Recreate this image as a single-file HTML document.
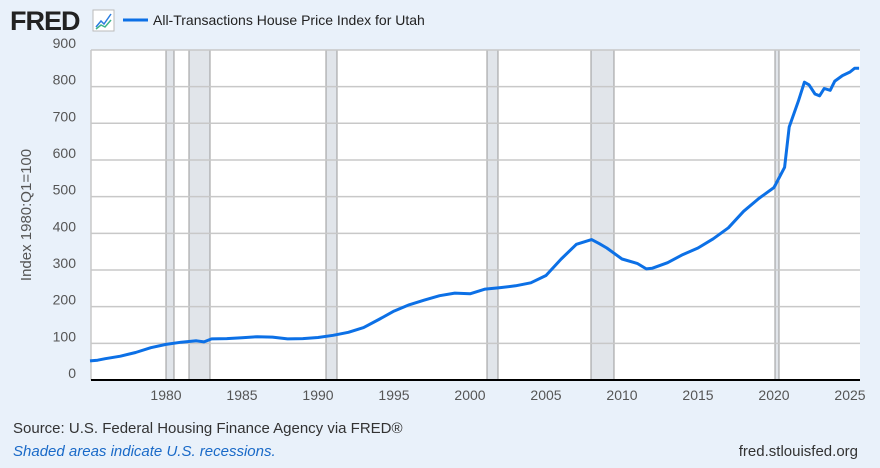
<!DOCTYPE html>
<html><head><meta charset="utf-8"><style>
body{margin:0;width:880px;height:463px;background:#e9f1fa;font-family:"Liberation Sans",sans-serif;overflow:hidden}
</style></head><body>
<svg width="880" height="463" xmlns="http://www.w3.org/2000/svg" font-family="Liberation Sans, sans-serif">
<text x="10" y="30" font-size="27" font-weight="bold" fill="#222" letter-spacing="-1">FRED</text>
<rect x="93" y="10" width="21" height="21" fill="#fff" stroke="#bbb"/>
<polyline points="96,27 101,21 104,24 111,14" fill="none" stroke="#2a7de0" stroke-width="1.5"/>
<polyline points="96,29 101,25 105,27 111,20" fill="none" stroke="#3cb38a" stroke-width="1.5"/>
<line x1="123" y1="20" x2="148" y2="20" stroke="#0c70e6" stroke-width="3"/>
<text x="153" y="25" font-size="14" fill="#222">All-Transactions House Price Index for Utah</text>
<rect x="91" y="50" width="769" height="330" fill="#fff"/>
<g fill="#e1e5ea" stroke="#999" stroke-width="1">
<rect x="166" y="50" width="8" height="330"/><rect x="189" y="50" width="21" height="330"/>
<rect x="326" y="50" width="11" height="330"/><rect x="487" y="50" width="11" height="330"/>
<rect x="591" y="50" width="23" height="330"/><rect x="775" y="50" width="4" height="330"/>
</g>
<g stroke="#c8c8c8" stroke-width="1.5" id="grid"></g>
<line x1="91" y1="50" x2="91" y2="380" stroke="#c8c8c8" stroke-width="1.5"/>
<g font-size="14" fill="#555" text-anchor="end" id="yl"></g>
<g font-size="14" fill="#555" text-anchor="middle" id="xl"></g>
<line x1="91" y1="380" x2="860" y2="380" stroke="#000" stroke-width="2"/>
<polyline id="ln" fill="none" stroke="#0c70e6" stroke-width="3" stroke-linejoin="round"/>
<text transform="translate(31,215) rotate(-90)" font-size="15" fill="#555" text-anchor="middle">Index 1980:Q1=100</text>
<text x="13" y="433" font-size="15" fill="#333">Source: U.S. Federal Housing Finance Agency via FRED®</text>
<text x="13" y="456" font-size="15" fill="#1a6ac8" font-style="italic">Shaded areas indicate U.S. recessions.</text>
<text x="858" y="456" font-size="15" fill="#333" text-anchor="end">fred.stlouisfed.org</text>
</svg>
<script>
var ns="http://www.w3.org/2000/svg";
function X(t){return 166+(t-1980)*15.2}function Y(v){return 380-v*0.3667}
var g=document.getElementById("grid"),yl=document.getElementById("yl"),xl=document.getElementById("xl");
for(var v=100;v<=900;v+=100){var l=document.createElementNS(ns,"line");l.setAttribute("x1",91);l.setAttribute("x2",860);l.setAttribute("y1",Y(v));l.setAttribute("y2",Y(v));g.appendChild(l);}
for(var v=0;v<=900;v+=100){var t=document.createElementNS(ns,"text");t.setAttribute("x",76);t.setAttribute("y",Y(v)-2);t.textContent=v;yl.appendChild(t);}
for(var y=1980;y<=2025;y+=5){var t=document.createElementNS(ns,"text");t.setAttribute("x",X(y));t.setAttribute("y",400);t.textContent=y;xl.appendChild(t);}
var d=[[1975,52],[1975.5,54],[1976,58],[1977,65],[1978,75],[1979,88],[1980,97],[1981,103],[1982,107],[1982.5,104],[1983,112],[1984,113],[1985,115],[1986,118],[1987,117],[1988,112],[1989,113],[1990,116],[1991,122],[1992,130],[1993,143],[1994,165],[1995,188],[1996,205],[1997,218],[1998,230],[1999,237],[2000,235],[2001,248],[2002,252],[2003,257],[2004,265],[2005,285],[2006,330],[2007,370],[2008,383],[2008.5,372],[2009,360],[2010,330],[2011,318],[2011.6,303],[2012,305],[2013,320],[2014,342],[2015,360],[2016,385],[2017,415],[2018,460],[2019,495],[2020,525],[2020.7,580],[2021,690],[2021.6,760],[2022,812],[2022.3,805],[2022.7,780],[2023,775],[2023.3,795],[2023.7,790],[2024,815],[2024.5,830],[2025,840],[2025.3,850],[2025.6,850]];
document.getElementById("ln").setAttribute("points",d.map(function(p){return X(p[0]).toFixed(1)+","+Y(p[1]).toFixed(1)}).join(" "));
</script>
</body></html>
